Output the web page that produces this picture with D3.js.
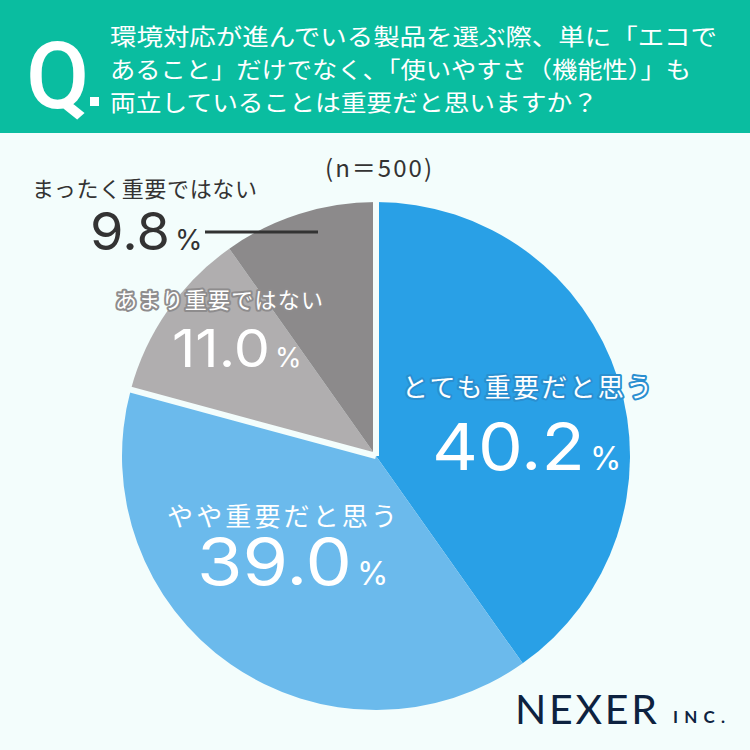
<!DOCTYPE html>
<html>
<head>
<meta charset="utf-8">
<script src="https://cdn.jsdelivr.net/npm/d3@7"></script>
<style>
  body { margin: 0; background: #f3fdfc; }
  svg { display: block; }
  .jp { font-family: "Noto Sans CJK JP", sans-serif; }
  .num { font-family: "Inter", "Noto Sans", sans-serif; font-weight: 400; }
</style>
</head>
<body>
<div id="chart"></div>
<script>
// Data
var categories = ['とても重要だと思う', 'やや重要だと思う', 'あまり重要ではない', 'まったく重要ではない'];
var values = [40.2, 39.0, 11.0, 9.8];
var colors = ['#29a0e6', '#6bbaec', '#b0aeaf', '#8c8a8b'];
var questionLines = [
    '環境対応が進んでいる製品を選ぶ際、単に「エコで',
    'あること」だけでなく、「使いやすさ（機能性）」も',
    '両立していることは重要だと思いますか？'
];
var sampleLabel = '(n＝500)';

var width = 750, height = 750;
var cx = 376, cy = 456, radius = 254;

var svg = d3.select('#chart').append('svg')
    .attr('width', width)
    .attr('height', height);

svg.append('rect').attr('width', width).attr('height', height).attr('fill', '#f3fdfc');

// Header
svg.append('rect').attr('width', width).attr('height', 133).attr('fill', '#0abda0');
svg.append('text')
    .attr('x', 26).attr('y', 108)
    .attr('font-family', 'Roboto, sans-serif')
    .attr('font-size', 92).attr('font-weight', 500)
    .attr('fill', '#fff')
    .text('Q');
svg.append('rect').attr('x', 90).attr('y', 97).attr('width', 9).attr('height', 9).attr('fill', '#fff');

var lineEnds = [717, 691, 598];
svg.selectAll('.q')
    .data(questionLines)
    .enter()
    .append('text')
    .attr('class', 'q jp')
    .attr('x', 110)
    .attr('y', function(d, i) { return 45 + i * 33; })
    .attr('font-size', 23)
    .attr('fill', '#fff')
    .attr('textLength', function(d, i) { return lineEnds[i] - 110; })
    .attr('lengthAdjust', 'spacingAndGlyphs')
    .text(function(d) { return d; });

// Pie
var pie = d3.pie().sort(null).value(function(d) { return d; });
var arcs = pie(values);
var arc = d3.arc().innerRadius(0).outerRadius(radius);

var g = svg.append('g').attr('transform', 'translate(' + cx + ',' + cy + ')');
g.selectAll('.slice')
    .data(arcs)
    .enter()
    .append('path')
    .attr('class', 'slice')
    .attr('d', arc)
    .attr('fill', function(d, i) { return colors[i]; });

// separators between the "important" and "not important" groups
var sepAngles = [arcs[0].startAngle, arcs[2].startAngle];
g.selectAll('.sep')
    .data(sepAngles)
    .enter()
    .append('line')
    .attr('x1', 0).attr('y1', 0)
    .attr('x2', function(a) { return Math.sin(a) * (radius + 4); })
    .attr('y2', function(a) { return -Math.cos(a) * (radius + 4); })
    .attr('stroke', '#f3fdfc')
    .attr('stroke-width', 6);

// Labels
function pctLabel(x, y, val, size, w, pctSize, fill) {
    var t = svg.append('text')
        .attr('class', 'num')
        .attr('x', x).attr('y', y)
        .attr('fill', fill)
        .attr('font-size', size);
    t.append('tspan')
        .attr('textLength', w)
        .attr('lengthAdjust', 'spacingAndGlyphs')
        .text(val.toFixed(1));
    t.append('tspan').attr('font-size', pctSize).attr('dx', 5).text('%');
}

function catLabel(x, y, text, size, w, fill, stroke) {
    var layers = stroke ? [stroke, fill] : [fill];
    layers.forEach(function(c, i) {
        var isStroke = stroke && i === 0;
        svg.append('text')
            .attr('class', 'jp')
            .attr('x', x).attr('y', y)
            .attr('font-size', size)
            .attr('textLength', w)
            .attr('lengthAdjust', 'spacing')
            .attr('fill', isStroke ? 'none' : c)
            .attr('stroke', isStroke ? c : null)
            .attr('stroke-width', isStroke ? 4 : null)
            .attr('stroke-linejoin', 'round')
            .text(text);
    });
}

svg.append('text')
    .attr('class', 'jp')
    .attr('x', 325).attr('y', 177)
    .attr('font-size', 24)
    .attr('fill', '#333')
    .attr('textLength', 107)
    .attr('lengthAdjust', 'spacing')
    .text(sampleLabel);

catLabel(402, 397, categories[0], 26, 250, '#fff', '#2a8fd0');
pctLabel(432, 470, values[0], 64, 153, 32, '#fff');

catLabel(167, 526, categories[1], 26, 230, '#fff', null);
pctLabel(197, 585, values[1], 64, 155, 32, '#fff');

catLabel(115, 308, categories[2], 22, 208, '#fff', '#8e8c8d');
pctLabel(172, 367, values[2], 52, 98, 27, '#fff');

catLabel(32, 197, categories[3], 22, 225, '#333', null);
pctLabel(90, 250, values[3], 52, 80, 28, '#333');

// leader line for the smallest slice
svg.append('line')
    .attr('x1', 205).attr('y1', 232)
    .attr('x2', 318).attr('y2', 232)
    .attr('stroke', '#333')
    .attr('stroke-width', 3);

// Logo
var logo = svg.append('text')
    .attr('x', 515).attr('y', 724)
    .attr('font-family', 'Lato, sans-serif')
    .attr('fill', '#0d2240');
logo.append('tspan').attr('font-size', 41)
    .attr('textLength', 142).attr('lengthAdjust', 'spacing').text('NEXER');
logo.append('tspan').attr('x', 673).attr('y', 723).attr('font-size', 17).attr('font-weight', 'bold')
    .attr('textLength', 52).attr('lengthAdjust', 'spacing').text('INC.');
</script>
</body>
</html>
